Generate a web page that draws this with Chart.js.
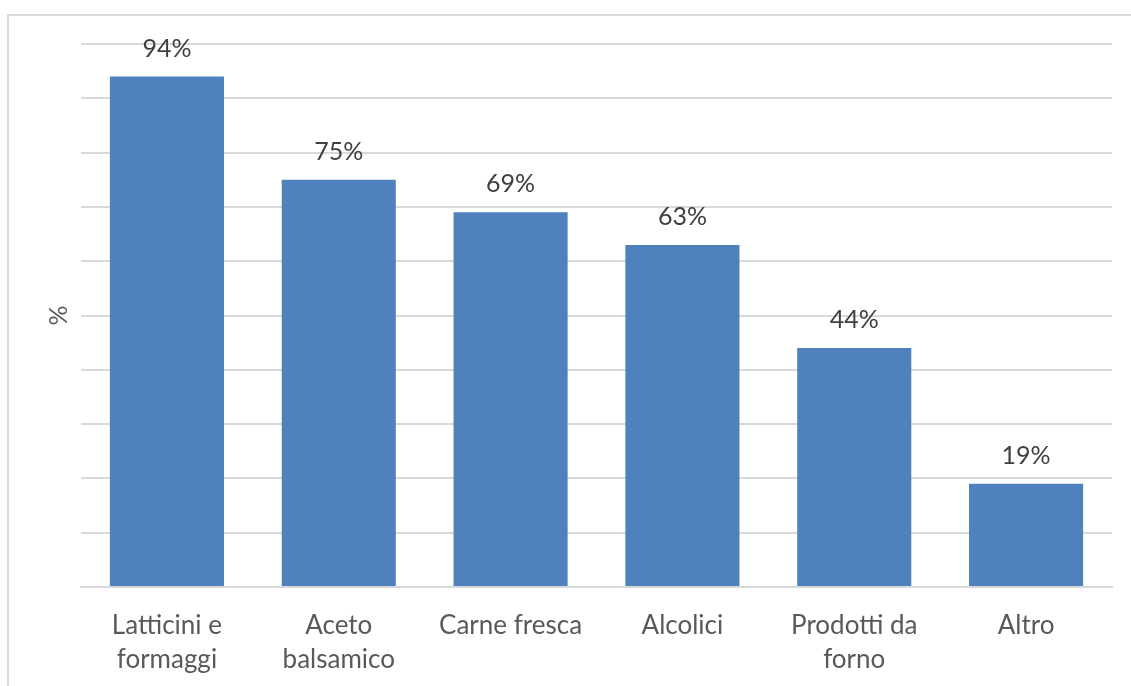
<!DOCTYPE html>
<html>
<head>
<meta charset="utf-8">
<script src="https://cdn.jsdelivr.net/npm/chart.js@4"></script>
<style>
  body { margin: 0; background: #fff; }
  #frame { position: absolute; left: 7px; top: 14px; width: 1200px; height: 800px; border: 2px solid #d9d9d9; }
  #wrap { position: absolute; left: 0; top: 0; width: 1131px; height: 686px; }
</style>
</head>
<body>
<div id="frame"></div>
<div id="wrap"><canvas id="chart" width="1131" height="686"></canvas></div>
<script>
// ─── DATA ─────────────────────────────────────────────────────────────────────
const categories = [['Latticini e', 'formaggi'], ['Aceto', 'balsamico'], 'Carne fresca', 'Alcolici', ['Prodotti da', 'forno'], 'Altro'];
const values = [94, 75, 69, 63, 44, 19];
const yTicks = { min: 0, max: 100, step: 10 };

const FONT = 'Lato, "Open Sans", sans-serif';

// value labels above bars
const barLabels = {
  id: 'barLabels',
  afterDatasetsDraw(chart) {
    const ctx = chart.ctx;
    const meta = chart.getDatasetMeta(0);
    ctx.save();
    ctx.font = '25px ' + FONT;
    ctx.fillStyle = '#404040';
    ctx.textAlign = 'center';
    ctx.textBaseline = 'middle';
    meta.data.forEach((bar, i) => ctx.fillText(values[i] + '%', bar.x, bar.y - 28));
    ctx.restore();
  }
};

new Chart(document.getElementById('chart'), {
  type: 'bar',
  data: {
    labels: categories,
    datasets: [{ data: values, backgroundColor: '#4f81bd', categoryPercentage: 1, barPercentage: 0.664 }]
  },
  options: {
    responsive: false,
    animation: false,
    layout: { padding: { top: 44, right: 19, left: 0, bottom: 0 } },
    plugins: { legend: { display: false }, tooltip: { enabled: false } },
    scales: {
      x: {
        grid: { display: false, drawTicks: false },
        border: { color: '#d9d9d9', width: 2 },
        ticks: { color: '#595959', font: { family: FONT, size: 26, lineHeight: 1.3 }, padding: 22, maxRotation: 0, autoSkip: false },
        afterFit: s => { s.height = 99; }
      },
      y: {
        min: yTicks.min, max: yTicks.max,
        ticks: { display: false, stepSize: yTicks.step },
        grid: { color: '#d9d9d9', lineWidth: 2, drawTicks: false },
        border: { display: false },
        title: { display: true, text: '%', color: '#595959', font: { family: FONT, size: 25 }, padding: { top: 44 } },
        afterFit: s => { s.width = 81; }
      }
    }
  },
  plugins: [barLabels]
});
</script>
</body>
</html>
